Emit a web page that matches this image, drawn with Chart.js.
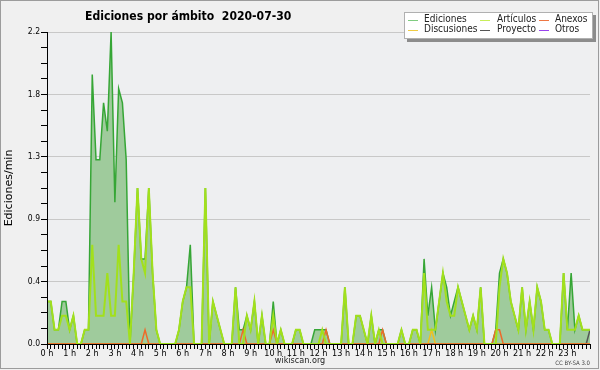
<!DOCTYPE html>
<html>
<head>
<meta charset="utf-8">
<script src="https://cdn.jsdelivr.net/npm/chart.js@4.4.1/dist/chart.umd.min.js"></script>
<style>
  body { margin: 0; background: #f0f0f0; }
  #caja { width: 600px; height: 370px; }
</style>
</head>
<body>
<div id="caja"><canvas id="grafico" width="600" height="370"></canvas></div>
<script>
// ediciones por minuto, un valor cada 10 minutos (00:00 -> 24:00)
const ediciones = [
  0.3, 0.3, 0.1, 0.1, 0.3, 0.3,
  0.1, 0.2, 0.0, 0.0, 0.1, 0.1,
  1.9, 1.3, 1.3, 1.7, 1.5, 2.2,
  1.0, 1.8, 1.7, 1.3, 0.0, 0.5,
  1.1, 0.6, 0.6, 1.1, 0.5, 0.1,
  0.0, 0.0, 0.0, 0.0, 0.0, 0.1,
  0.3, 0.4, 0.7, 0.0, 0.0, 0.0,
  1.1, 0.0, 0.3, 0.2, 0.1, 0.0,
  0.0, 0.0, 0.4, 0.1, 0.1, 0.2,
  0.1, 0.3, 0.0, 0.2, 0.0, 0.0,
  0.3, 0.0, 0.1, 0.0, 0.0, 0.0,
  0.1, 0.1, 0.0, 0.0, 0.0, 0.1,
  0.1, 0.1, 0.1, 0.0, 0.0, 0.0,
  0.0, 0.4, 0.0, 0.0, 0.2, 0.2,
  0.1, 0.0, 0.2, 0.0, 0.1, 0.1,
  0.0, 0.0, 0.0, 0.0, 0.1, 0.0,
  0.0, 0.1, 0.1, 0.0, 0.6, 0.2,
  0.4, 0.1, 0.3, 0.5, 0.4, 0.2,
  0.3, 0.4, 0.3, 0.2, 0.1, 0.2,
  0.1, 0.4, 0.0, 0.0, 0.0, 0.1,
  0.5, 0.6, 0.5, 0.3, 0.2, 0.1,
  0.4, 0.1, 0.3, 0.1, 0.4, 0.3,
  0.1, 0.1, 0.0, 0.0, 0.0, 0.5,
  0.1, 0.5, 0.1, 0.2, 0.1, 0.1,
  0.1
]
const articulos = [
  0.3, 0.3, 0.1, 0.1, 0.2, 0.2,
  0.1, 0.2, 0.0, 0.0, 0.1, 0.1,
  0.7, 0.2, 0.2, 0.2, 0.5, 0.2,
  0.2, 0.7, 0.3, 0.3, 0.0, 0.5,
  1.1, 0.6, 0.5, 1.1, 0.5, 0.1,
  0.0, 0.0, 0.0, 0.0, 0.0, 0.1,
  0.3, 0.4, 0.4, 0.0, 0.0, 0.0,
  1.1, 0.0, 0.3, 0.2, 0.1, 0.0,
  0.0, 0.0, 0.4, 0.0, 0.0, 0.2,
  0.1, 0.3, 0.0, 0.2, 0.0, 0.0,
  0.2, 0.0, 0.1, 0.0, 0.0, 0.0,
  0.1, 0.1, 0.0, 0.0, 0.0, 0.0,
  0.0, 0.1, 0.0, 0.0, 0.0, 0.0,
  0.0, 0.4, 0.0, 0.0, 0.2, 0.2,
  0.1, 0.0, 0.2, 0.0, 0.1, 0.0,
  0.0, 0.0, 0.0, 0.0, 0.1, 0.0,
  0.0, 0.1, 0.1, 0.0, 0.5, 0.1,
  0.1, 0.1, 0.3, 0.5, 0.3, 0.2,
  0.2, 0.4, 0.3, 0.2, 0.1, 0.2,
  0.1, 0.4, 0.0, 0.0, 0.0, 0.0,
  0.4, 0.6, 0.5, 0.3, 0.2, 0.1,
  0.4, 0.1, 0.3, 0.1, 0.4, 0.3,
  0.1, 0.1, 0.0, 0.0, 0.0, 0.5,
  0.1, 0.1, 0.1, 0.2, 0.1, 0.1,
  0.1
]
const anexos = [
  0, 0, 0, 0, 0, 0,   0, 0, 0, 0, 0, 0,   0, 0, 0, 0, 0, 0,
  0, 0, 0, 0, 0, 0,   0, 0, 0.1, 0, 0, 0, 0, 0, 0, 0, 0, 0,
  0, 0, 0, 0, 0, 0,   0, 0, 0, 0, 0, 0,   0, 0, 0, 0, 0.1, 0,
  0, 0, 0, 0, 0, 0,   0.1, 0, 0, 0, 0, 0, 0, 0, 0, 0, 0, 0,
  0, 0, 0.1, 0, 0, 0, 0, 0, 0, 0, 0, 0,   0, 0, 0, 0, 0, 0.1,
  0, 0, 0, 0, 0, 0,   0, 0, 0, 0, 0, 0,   0, 0, 0, 0, 0, 0,
  0, 0, 0, 0, 0, 0,   0, 0, 0, 0, 0, 0.1, 0.1, 0, 0, 0, 0, 0,
  0, 0, 0, 0, 0, 0,   0, 0, 0, 0, 0, 0,   0, 0, 0, 0, 0, 0,
  0
]
const discusiones = [
  0, 0, 0, 0, 0, 0,   0, 0, 0, 0, 0, 0,   0, 0, 0, 0, 0, 0,
  0, 0, 0, 0, 0, 0,   0, 0, 0, 0, 0, 0,   0, 0, 0, 0, 0, 0,
  0, 0, 0, 0, 0, 0,   0, 0, 0, 0, 0, 0,   0, 0, 0, 0, 0, 0,
  0, 0, 0, 0, 0, 0,   0, 0, 0, 0, 0, 0,   0, 0, 0, 0, 0, 0,
  0, 0, 0, 0, 0, 0,   0, 0, 0, 0, 0, 0,   0, 0, 0, 0, 0, 0,
  0, 0, 0, 0, 0, 0,   0, 0, 0, 0, 0, 0,   0.1, 0, 0, 0, 0, 0,
  0, 0, 0, 0, 0, 0,   0, 0, 0, 0, 0, 0,   0, 0, 0, 0, 0, 0,
  0, 0, 0, 0, 0, 0,   0, 0, 0, 0, 0, 0,   0, 0, 0, 0, 0, 0,
  0
]
const proyecto = [
  0, 0, 0, 0, 0, 0,   0, 0, 0, 0, 0, 0,   0, 0, 0, 0, 0, 0,
  0, 0, 0, 0, 0, 0,   0, 0, 0, 0, 0, 0,   0, 0, 0, 0, 0, 0,
  0, 0, 0, 0, 0, 0,   0, 0, 0, 0, 0, 0,   0, 0, 0, 0, 0, 0,
  0, 0, 0, 0, 0, 0,   0, 0, 0, 0, 0, 0,   0, 0, 0, 0, 0, 0,
  0, 0, 0, 0, 0, 0,   0, 0, 0, 0, 0, 0,   0, 0, 0, 0, 0, 0,
  0, 0, 0, 0, 0, 0,   0, 0, 0, 0, 0, 0,   0, 0, 0, 0, 0, 0,
  0, 0, 0, 0, 0, 0,   0, 0, 0, 0, 0, 0,   0, 0, 0, 0, 0, 0,
  0, 0, 0, 0, 0, 0,   0, 0, 0, 0, 0, 0,   0, 0, 0, 0, 0, 0,
  0.1
]
const otros = [
  0, 0, 0, 0, 0, 0,   0, 0, 0, 0, 0, 0,   0, 0, 0, 0, 0, 0,
  0, 0, 0, 0, 0, 0,   0, 0, 0, 0, 0, 0,   0, 0, 0, 0, 0, 0,
  0, 0, 0, 0, 0, 0,   0, 0, 0, 0, 0, 0,   0, 0, 0, 0, 0, 0,
  0, 0, 0, 0, 0, 0,   0, 0, 0, 0, 0, 0,   0, 0, 0, 0, 0, 0,
  0, 0, 0, 0, 0, 0,   0, 0, 0, 0, 0, 0,   0, 0, 0, 0, 0, 0,
  0, 0, 0, 0, 0, 0,   0, 0, 0, 0, 0, 0,   0, 0, 0, 0, 0, 0,
  0, 0, 0, 0, 0, 0,   0, 0, 0, 0, 0, 0,   0, 0, 0, 0, 0, 0,
  0, 0, 0, 0, 0, 0,   0, 0, 0, 0, 0, 0,   0, 0, 0, 0, 0, 0,
  0
]

const horas = ['0 h', '1 h', '2 h', '3 h', '4 h', '5 h', '6 h', '7 h', '8 h', '9 h', '10 h', '11 h',
  '12 h', '13 h', '14 h', '15 h', '16 h', '17 h', '18 h', '19 h', '20 h', '21 h', '22 h', '23 h']
const valoresY = [0, 0.44, 0.88, 1.32, 1.76, 2.2]
const etiquetasY = ['0.0', '0.4', '0.9', '1.3', '1.8', '2.2']

const titulo = 'Ediciones por ámbito  2020-07-30'
const nombres = ['Ediciones', 'Artículos', 'Anexos', 'Discusiones', 'Proyecto', 'Otros']
const coloresLeyenda = ['#80cc80', '#c8ee5a', '#ee7744', '#f0cc44', '#555555', '#9944ee']

const fuente = "'DejaVu Sans Condensed', 'DejaVu Sans', sans-serif"

// cada punto va a i/6 horas
const puntos = arr => arr.map((v, i) => ({ x: i / 6, y: v }))

// texto estrechado en horizontal
function texto(ctx, s, x, y, escala) {
  ctx.save()
  ctx.translate(x, y)
  ctx.scale(escala, 1)
  ctx.fillText(s, 0, 0)
  ctx.restore()
}

const decorado = {
  id: 'decorado',
  beforeDraw(chart) {
    const { ctx, chartArea: a } = chart
    ctx.save()
    ctx.fillStyle = '#f0f0f0'
    ctx.fillRect(0, 0, chart.width, chart.height)
    ctx.fillStyle = '#eeeff1'
    ctx.fillRect(a.left, a.top, a.right - a.left, a.bottom - a.top)
    ctx.strokeStyle = '#9c9c9c'
    ctx.lineWidth = 1
    ctx.strokeRect(0.5, 0.5, chart.width - 2, chart.height - 2)
    ctx.restore()
  },
  afterDatasetsDraw(chart) {
    // los ejes van encima de las lineas en cero
    const { ctx, chartArea: a } = chart
    ctx.save()
    ctx.strokeStyle = '#000'
    ctx.lineWidth = 1
    ctx.beginPath()
    ctx.moveTo(Math.round(a.left) + 0.5, a.top)
    ctx.lineTo(Math.round(a.left) + 0.5, Math.round(a.bottom) + 0.5)
    ctx.lineTo(a.right, Math.round(a.bottom) + 0.5)
    ctx.stroke()
    ctx.restore()
  },
  afterDraw(chart) {
    const { ctx } = chart
    ctx.save()
    // titulo
    ctx.fillStyle = '#000'
    ctx.font = 'bold 13px ' + fuente
    ctx.textBaseline = 'alphabetic'
    ctx.textAlign = 'left'
    texto(ctx, titulo, 85, 20, 0.93)

    // leyenda
    const lx = 404, ly = 12, lw = 189, lh = 27
    ctx.fillStyle = '#8c8c8c'
    ctx.fillRect(lx + 3, ly + 3, lw, lh)
    ctx.fillStyle = '#ffffff'
    ctx.fillRect(lx, ly, lw, lh)
    ctx.strokeStyle = '#b0b0b0'
    ctx.strokeRect(lx + 0.5, ly + 0.5, lw - 1, lh - 1)
    const colLinea = [408, 480, 539]
    const colTexto = [424, 497, 555]
    const filas = [19.5, 29.5]
    ctx.font = '10px ' + fuente
    ctx.textBaseline = 'middle'
    nombres.forEach((n, i) => {
      const c = i % 3, f = Math.floor(i / 3)
      ctx.strokeStyle = coloresLeyenda[i]
      ctx.lineWidth = 1
      ctx.beginPath()
      ctx.moveTo(colLinea[c], Math.round(filas[f]) + 0.5)
      ctx.lineTo(colLinea[c] + 10, Math.round(filas[f]) + 0.5)
      ctx.stroke()
      ctx.fillStyle = '#222'
      ctx.fillText(n, colTexto[c], filas[f])
    })

    // pie
    ctx.textBaseline = 'alphabetic'
    ctx.fillStyle = '#222'
    ctx.font = '9px ' + fuente
    ctx.textAlign = 'center'
    ctx.fillText('wikiscan.org', 300, 363)
    ctx.fillStyle = '#444'
    ctx.font = '6px ' + fuente
    ctx.textAlign = 'right'
    ctx.fillText('CC BY-SA 3.0', 590, 365)
    ctx.restore()
  }
}

const ctx = document.getElementById('grafico').getContext('2d')
new Chart(ctx, {
  type: 'line',
  data: {
    datasets: [
      { label: 'Artículos', data: puntos(articulos), borderColor: '#a2e01c', borderWidth: 2, order: 0 },
      { label: 'Anexos', data: puntos(anexos), borderColor: '#ee6a2a', borderWidth: 1.5, order: 1 },
      { label: 'Discusiones', data: puntos(discusiones), borderColor: '#f0c020', borderWidth: 1.5, order: 2 },
      { label: 'Proyecto', data: puntos(proyecto), borderColor: '#555555', borderWidth: 1.5, order: 3 },
      { label: 'Otros', data: puntos(otros), borderColor: '#9944ee', borderWidth: 1, order: 4 },
      { label: 'Ediciones', data: puntos(ediciones), borderColor: '#36a636', borderWidth: 1.5,
        fill: 'origin', backgroundColor: '#9fcb9c', order: 5 }
    ]
  },
  options: {
    responsive: false,
    animation: false,
    layout: { padding: { top: 32, right: 10, left: 0, bottom: 0 } },
    elements: { point: { radius: 0 }, line: { tension: 0 } },
    plugins: { legend: { display: false }, tooltip: { enabled: false } },
    scales: {
      x: {
        type: 'linear',
        min: 0,
        max: 24,
        afterBuildTicks: (eje) => {
          const t = []
          for (let i = 0; i <= 144; i++) t.push({ value: i / 6 })
          eje.ticks = t
        },
        afterFit: (eje) => { eje.height = 26 },
        ticks: {
          autoSkip: false,
          maxRotation: 0,
          padding: -1,
          color: '#000',
          font: { family: fuente, size: 9 },
          callback: (v) => {
            const k = Math.round(v * 6)
            return (k % 6 === 0 && k / 6 < 24) ? horas[k / 6] : ''
          }
        },
        grid: { drawOnChartArea: false, drawTicks: true, tickLength: 5, tickColor: '#000' },
        border: { display: true, color: '#000' }
      },
      y: {
        min: 0,
        max: 2.2,
        afterBuildTicks: (eje) => {
          const t = []
          valoresY.forEach((v, i) => {
            t.push({ value: v })
            if (i < valoresY.length - 1) {
              const paso = (valoresY[i + 1] - v) / 4
              for (let k = 1; k < 4; k++) t.push({ value: v + paso * k })
            }
          })
          eje.ticks = t
        },
        afterFit: (eje) => { eje.width = 47 },
        ticks: {
          padding: 1,
          color: '#000',
          font: { family: fuente, size: 8.5 },
          callback: (v, i) => (i % 4 === 0 ? etiquetasY[i / 4] : '')
        },
        grid: {
          color: (c) => (c.index % 4 === 0 && c.index > 0 ? '#c8c8c8' : 'rgba(0,0,0,0)'),
          tickColor: '#000',
          tickLength: 6
        },
        border: { display: true, color: '#000' },
        title: {
          display: true,
          text: 'Ediciones/min',
          color: '#000',
          font: { family: 'DejaVu Sans', size: 11 },
          padding: { top: 3, bottom: 0 }
        }
      }
    }
  },
  plugins: [decorado]
})
</script>
</body>
</html>
